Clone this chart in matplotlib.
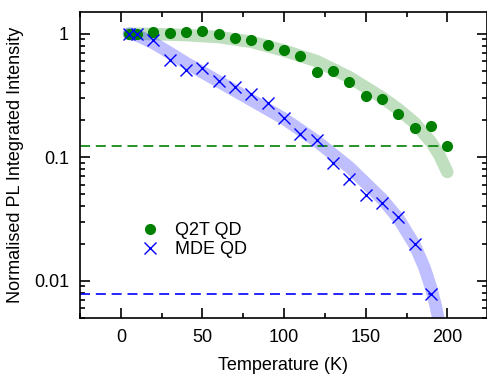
import numpy as np
import matplotlib
matplotlib.use("Agg")
import matplotlib.pyplot as plt
from matplotlib.ticker import LogLocator, NullFormatter, MultipleLocator

plt.rcParams['font.family'] = ['Liberation Sans', 'DejaVu Sans']
plt.rcParams['font.size'] = 13

# measured points
temp_q2t = [5, 10, 20, 30, 40, 50, 60, 70, 80, 90, 100, 110, 120, 130, 140,
            150, 160, 170, 180, 190, 200]
int_q2t = [1.0, 1.0, 1.025, 1.01, 1.03, 1.057, 0.99, 0.917, 0.89, 0.815, 0.739,
           0.656, 0.494, 0.50, 0.408, 0.314, 0.295, 0.225, 0.174, 0.180, 0.123]

temp_mde = [5, 10, 20, 30, 40, 50, 60, 70, 80, 90, 100, 110, 120, 130, 140,
            150, 160, 170, 180, 190]
int_mde = [1.0, 1.0, 0.89, 0.613, 0.512, 0.525, 0.418, 0.374, 0.324, 0.276,
           0.207, 0.153, 0.139, 0.090, 0.0673, 0.0494, 0.0423, 0.033, 0.0198,
           0.0078]

# fit curves
fit_t_q2t = [5, 20, 40, 60, 80, 100, 120, 140, 160, 170, 180, 190, 195, 200]
fit_i_q2t = [1.0, 0.995, 0.975, 0.94, 0.86, 0.73, 0.6, 0.445, 0.305, 0.245,
             0.19, 0.133, 0.105, 0.076]

fit_t_mde = [5, 10, 20, 30, 40, 60, 80, 100, 120, 140, 160, 170, 180, 186,
             190, 193, 195]
fit_i_mde = [1.0, 0.97, 0.84, 0.70, 0.58, 0.41, 0.29, 0.205, 0.135, 0.083,
             0.046, 0.032, 0.0195, 0.0128, 0.0088, 0.0062, 0.0046]

fig = plt.figure(figsize=(4.87, 3.78), dpi=100)
ax = fig.add_axes([80 / 487, 60 / 378, 406.5 / 487, 306 / 378])

ax.plot(fit_t_q2t, fit_i_q2t, color='green', alpha=0.25, lw=9,
        solid_capstyle='round', zorder=1)
ax.plot(fit_t_mde, fit_i_mde, color='blue', alpha=0.25, lw=9,
        solid_capstyle='round', zorder=1)

xmin, xmax = -25, 224
ax.hlines(int_q2t[-1], xmin, temp_q2t[-1], colors='green', lw=1.2,
          linestyles=(0, (6, 3.5)), zorder=2)
ax.hlines(int_mde[-1], xmin, temp_mde[-1], colors='blue', lw=1.2,
          linestyles=(0, (6, 3.5)), zorder=2)

ax.plot(temp_q2t, int_q2t, 'o', color='green', ms=7, label='Q2T QD', zorder=3)
ax.plot(temp_mde, int_mde, 'x', color='blue', ms=9, mew=1.0, label='MDE QD',
        zorder=3)

ax.set_yscale('log')
ax.set_xlim(xmin, xmax)
ax.set_ylim(0.005, 1.5)
ax.set_yticks([0.01, 0.1, 1], ['0.01', '0.1', '1'])
ax.yaxis.set_minor_locator(LogLocator(base=10, subs=np.arange(2, 10)))
ax.yaxis.set_minor_formatter(NullFormatter())
ax.xaxis.set_major_locator(MultipleLocator(50))
ax.xaxis.set_minor_locator(MultipleLocator(25))

ax.tick_params(which='both', direction='in', top=True, right=True, width=1.2)
ax.tick_params(which='major', length=7, pad=8)
ax.tick_params(which='minor', length=3.5)
for s in ax.spines.values():
    s.set_linewidth(1.2)

ax.set_xlabel('Temperature (K)', labelpad=8)
ax.set_ylabel('Normalised PL Integrated Intensity', labelpad=7)

ax.legend(loc='center left', bbox_to_anchor=(0.1455, 0.255), frameon=False,
          borderpad=0, borderaxespad=0, handlelength=1.2, handletextpad=0.8,
          labelspacing=0.1)

fig.savefig('out.png', dpi=100)
